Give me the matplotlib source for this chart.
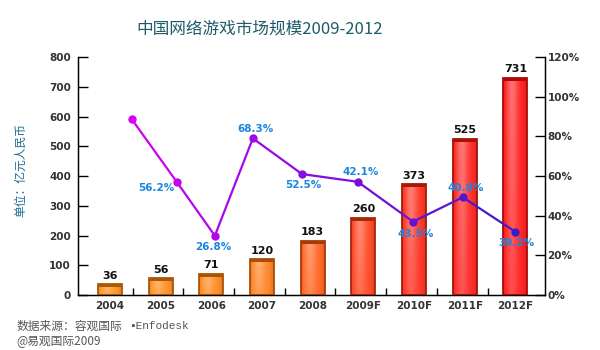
import numpy as np
import matplotlib.pyplot as plt
from matplotlib.colors import to_rgb
from matplotlib.ticker import PercentFormatter

plt.rcParams['font.family'] = ['DejaVu Sans', 'Noto Sans CJK SC']

# data
years = ['2004', '2005', '2006', '2007', '2008', '2009F', '2010F', '2011F', '2012F']
market = [36, 56, 71, 120, 183, 260, 373, 525, 731]          # 亿元
growth_pos = [0.43, 1.32, 2.07, 2.82, 3.79, 4.89, 5.98, 6.96, 8.0]
growth = [88.7, 57.0, 29.9, 79.0, 61.0, 57.1, 37.0, 49.3, 31.9]  # %
growth_labels = ['', '56.2%', '26.8%', '68.3%', '52.5%', '42.1%', '43.5%', '40.8%', '39.2%']

# label offsets (points) relative to each line marker
label_off = [(0, 0), (-15, -4), (-1, -8), (2, 7), (1, -8), (2, 7), (2, -9), (2, 7), (1, -8)]

bar_base = ['#ff962a', '#ff932a', '#ff8f2a', '#ff872a', '#ff6a2a',
            '#ff4d2a', '#ff3a2a', '#ff2e2a', '#ff2525']
bar_edge = ['#a85a08', '#a85808', '#a85408', '#a84e08', '#a83a08',
            '#a82808', '#a81a08', '#a81208', '#b00808']

fig = plt.figure(figsize=(6, 3.5), dpi=100)
ax = fig.add_axes([0.13, 0.157, 0.778, 0.68])
x = np.arange(len(years))
width = 0.47

bars = ax.bar(x, market, width=width, facecolor='none', edgecolor='none', zorder=3)


def gradient(base):
    c = np.array(to_rgb(base))
    cols = np.linspace(-1, 1, 40)
    # lighter left-center, darker edges
    light = 0.35 * np.exp(-((cols + 0.25) ** 2) / 0.25) - 0.15 * cols ** 4
    rows = np.linspace(0, 1, 60)[:, None]  # 0 = top
    img = c[None, None, :] + (1 - c[None, None, :]) * np.clip(light, 0, 1)[None, :, None] * (1 - 0.5 * rows[..., None])
    img = img * (1 - np.clip(-light, 0, 1))[None, :, None]
    return np.clip(img, 0, 1)


for i, p in enumerate(bars):
    x0, y0 = p.get_x(), p.get_y()
    w, h = p.get_width(), p.get_height()
    im = ax.imshow(gradient(bar_base[i]), extent=(x0, x0 + w, y0, y0 + h),
                   aspect='auto', zorder=2, interpolation='bilinear')
    im.set_clip_path(p)
    ax.bar(x0 + w / 2, h, width=w, facecolor='none', edgecolor=bar_edge[i],
           linewidth=1.3, zorder=3)
    # darker cap on top of each bar
    ax.bar(x0 + w / 2, 10, bottom=h - 10, width=w, color=bar_edge[i], zorder=3)
    ax.text(x0 + w / 2, h + 12, str(market[i]), ha='center', va='bottom',
            fontsize=8, fontweight='bold', color='#111111')

ax.set_xlim(-0.63, 8.58)
ax.set_ylim(0, 800)
ax.set_yticks(range(0, 801, 100))
ax.set_xticks(x)
ax.set_xticklabels(years)
ax.set_xticks(x[:-1] + 0.45, minor=True)
ax.tick_params(axis='x', which='major', length=0, pad=4, labelsize=7.5)
ax.tick_params(axis='x', which='minor', direction='in', length=5, width=1)
ax.tick_params(axis='y', direction='in', length=7, width=1, pad=5, labelsize=7.5)
for lab in ax.get_xticklabels() + ax.get_yticklabels():
    lab.set_fontweight('bold')
    lab.set_color('#333333')
ax.spines['top'].set_visible(False)
for s in ['left', 'right', 'bottom']:
    ax.spines[s].set_linewidth(1)

ax2 = ax.twinx()
ax2.set_ylim(0, 120)
ax2.set_yticks(range(0, 121, 20))
ax2.yaxis.set_major_formatter(PercentFormatter(decimals=0))
ax2.tick_params(axis='y', direction='in', length=7, width=1, pad=2, labelsize=7.5)
for lab in ax2.get_yticklabels():
    lab.set_fontweight('bold')
    lab.set_color('#333333')
ax2.spines['top'].set_visible(False)

# growth line, colour drifting from magenta to blue
c0 = np.array(to_rgb('#d800f2'))
c1 = np.array(to_rgb('#3a1ccc'))
n = len(growth)
for i in range(n - 1):
    t = (i + 0.5) / (n - 1)
    ax2.plot(growth_pos[i:i + 2], growth[i:i + 2], color=c0 + (c1 - c0) * t,
             linewidth=1.6, zorder=4, solid_capstyle='round')
for i in range(n):
    t = i / (n - 1)
    ax2.plot(growth_pos[i], growth[i], 'o', markersize=5,
             color=c0 + (c1 - c0) * t, zorder=5)
    if growth_labels[i]:
        ax2.annotate(growth_labels[i], (growth_pos[i], growth[i]),
                     xytext=label_off[i], textcoords='offset points',
                     ha='center', va='center', fontsize=7.5,
                     fontweight='bold', color='#1a86e0', zorder=6)

fig.text(0.432, 0.917, '中国网络游戏市场规模2009-2012', ha='center', va='center',
         fontsize=12, color='#1d5c68', family=['Noto Sans CJK SC', 'DejaVu Sans'])
fig.text(0.034, 0.514, '单位：亿元人民币', rotation=90, ha='center', va='center',
         fontsize=8.5, color='#1c6c96', family=['Noto Sans CJK SC', 'DejaVu Sans'])
fig.text(0.027, 0.069, '数据来源：容观国际', ha='left', va='center', fontsize=8.5,
         color='#555555', family=['Noto Sans CJK SC', 'DejaVu Sans'])
fig.text(0.215, 0.069, '▪Enfodesk', ha='left', va='center', fontsize=8,
         color='#555555', family=['Liberation Mono', 'DejaVu Sans'])
fig.text(0.027, 0.024, '@易观国际2009', ha='left', va='center', fontsize=8.5,
         color='#555555', family=['Noto Sans CJK SC', 'DejaVu Sans'])

fig.savefig('out.png', dpi=100)
